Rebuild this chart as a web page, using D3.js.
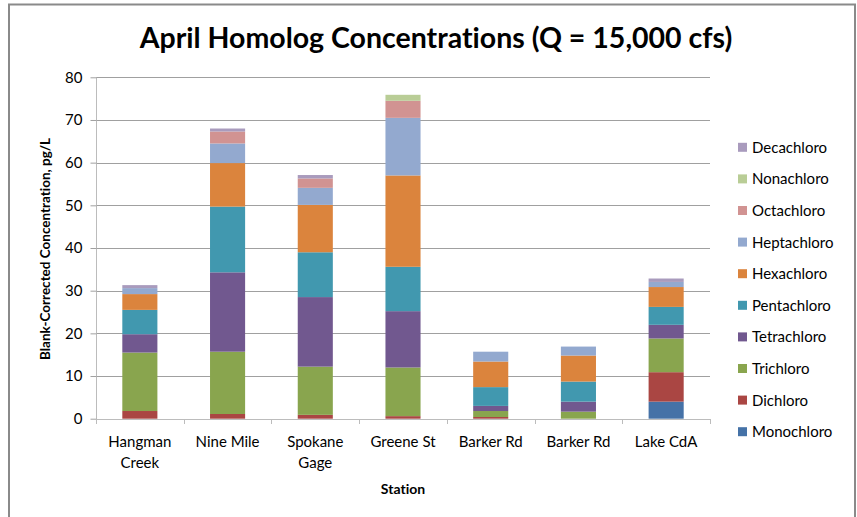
<!DOCTYPE html>
<html>
<head>
<meta charset="utf-8">
<script src="https://cdn.jsdelivr.net/npm/d3@7"></script>
<style>
  body { margin: 0; background: #fff; }
  text { font-family: Lato, "Open Sans", sans-serif; fill: #000; font-variant-ligatures: none; }
</style>
</head>
<body>
<svg class="svg" width="857" height="517"></svg>
<script>
// stations along the x axis (two Barker Rd samples, so index the band scale)
var stations = [['Hangman', 'Creek'], ['Nine Mile'], ['Spokane', 'Gage'], ['Greene St'], ['Barker Rd'], ['Barker Rd'], ['Lake CdA']];
var homologs = ['Monochloro', 'Dichloro', 'Trichloro', 'Tetrachloro', 'Pentachloro', 'Hexachloro', 'Heptachloro', 'Octachloro', 'Nonachloro', 'Decachloro'];
var colors = ['#4572A7', '#AA4643', '#89A54E', '#71588F', '#4198AF', '#DB843D', '#93A9CF', '#D19392', '#B9CD96', '#A99BBD'];

// pg/L per homolog, one value per station
var mono  = [0, 0, 0, 0, 0, 0, 4.0];
var di    = [1.8, 1.1, 0.9, 0.6, 0.4, 0, 6.9];
var tri   = [13.7, 14.6, 11.3, 11.4, 1.4, 1.65, 7.9];
var tetra = [4.3, 18.6, 16.3, 13.2, 1.2, 2.35, 3.2];
var penta = [5.7, 15.4, 10.5, 10.4, 4.4, 4.7, 4.2];
var hexa  = [3.7, 10.2, 11.1, 21.4, 6.0, 6.1, 4.65];
var hepta = [1.4, 4.6, 4.0, 13.5, 2.3, 2.1, 1.2];
var octa  = [0, 2.8, 2.2, 4.0, 0, 0, 0];
var nona  = [0, 0, 0, 1.4, 0, 0, 0];
var deca  = [0.7, 0.7, 0.8, 0, 0, 0, 0.8];
var yTicks = [0, 10, 20, 30, 40, 50, 60, 70, 80];

var series = [mono, di, tri, tetra, penta, hexa, hepta, octa, nona, deca];

var svg = d3.select('.svg');

// outer chart frame
svg.append('rect')
  .attr('x', 9).attr('y', 4.5)
  .attr('width', 846).attr('height', 540)
  .attr('fill', 'none')
  .attr('stroke', '#8a8a8a')
  .attr('stroke-width', 2);

var x = d3.scaleBand()
  .domain(d3.range(stations.length))
  .range([96, 710])
  .paddingInner(0.6)
  .paddingOuter(0.3);

var y = d3.scaleLinear()
  .domain([0, 80])
  .range([418.7, 77.3]);

//gridlines
svg.append('g').selectAll('line')
  .data(yTicks.slice(1))
  .enter().append('line')
  .attr('x1', 96).attr('x2', 710)
  .attr('y1', d => Math.round(y(d)) + 0.5)
  .attr('y2', d => Math.round(y(d)) + 0.5)
  .attr('stroke', '#a0a0a0');

//stack the table built from the series arrays
var table = stations.map((s, i) => {
  var row = { idx: i };
  homologs.forEach((h, k) => row[h] = series[k][i]);
  return row;
});
var stacked = d3.stack().keys(homologs)(table);

svg.append('g').selectAll('g')
  .data(stacked)
  .enter().append('g')
  .attr('fill', (d, k) => colors[k])
  .selectAll('rect')
  .data(d => d.filter(p => p[1] > p[0]))
  .enter().append('rect')
  .attr('x', d => x(d.data.idx))
  .attr('width', x.bandwidth())
  .attr('y', d => y(d[1]))
  .attr('height', d => y(d[0]) - y(d[1]));

//y axis
var yAxis = svg.append('g')
  .attr('transform', 'translate(96.5,0)')
  .call(d3.axisLeft(y).tickValues(yTicks).tickSize(6).tickPadding(8));
yAxis.select('.domain').attr('stroke', '#bcbcbc').attr('d', 'M0,77.3V424');
yAxis.selectAll('.tick line').attr('stroke', '#a0a0a0');
yAxis.selectAll('.tick text').style('font-size', '15px').attr('fill', '#000');

//x axis with boundary ticks between stations
var xAxisG = svg.append('g').attr('transform', 'translate(0,419)');
xAxisG.append('line')
  .attr('x1', 96).attr('x2', 710).attr('y1', 0.5).attr('y2', 0.5)
  .attr('stroke', '#bcbcbc');
xAxisG.selectAll('.xtick')
  .data(d3.range(stations.length + 1))
  .enter().append('line')
  .attr('class', 'xtick')
  .attr('x1', i => Math.round(x.range()[0] + i * x.step()) + 0.5)
  .attr('x2', i => Math.round(x.range()[0] + i * x.step()) + 0.5)
  .attr('y1', 0).attr('y2', 5)
  .attr('stroke', '#bcbcbc');
xAxisG.selectAll('.xlabel')
  .data(stations)
  .enter().append('text')
  .attr('class', 'xlabel')
  .attr('text-anchor', 'middle')
  .style('font-size', '15px')
  .each(function (lines, i) {
    d3.select(this).selectAll('tspan')
      .data(lines)
      .enter().append('tspan')
      .attr('x', x(i) + x.bandwidth() / 2)
      .attr('y', (d, j) => 28 + j * 21)
      .text(d => d);
  });

//titles
svg.append('text')
  .attr('x', 436).attr('y', 48)
  .attr('text-anchor', 'middle')
  .style('font-size', '28.5px').style('font-weight', 'bold')
  .text('April Homolog Concentrations (Q = 15,000 cfs)');

svg.append('text')
  .attr('x', 403).attr('y', 494)
  .attr('text-anchor', 'middle')
  .style('font-size', '14px').style('font-weight', 'bold')
  .text('Station');

svg.append('text')
  .attr('transform', 'translate(50,249) rotate(-90)')
  .attr('text-anchor', 'middle')
  .style('font-size', '13.5px').style('font-weight', 'bold')
  .text('Blank-Corrected Concentration, pg/L');

//legend, top entry is the last homolog
var legend = svg.append('g').selectAll('g')
  .data(homologs.slice().reverse())
  .enter().append('g')
  .attr('transform', (d, i) => 'translate(738,' + (147.3 + i * 31.6) + ')');
legend.append('rect')
  .attr('x', 0).attr('y', -4.5)
  .attr('width', 9).attr('height', 9)
  .attr('fill', d => colors[homologs.indexOf(d)]);
legend.append('text')
  .attr('x', 14).attr('y', 5.5)
  .style('font-size', '15px')
  .text(d => d);
</script>
</body>
</html>
